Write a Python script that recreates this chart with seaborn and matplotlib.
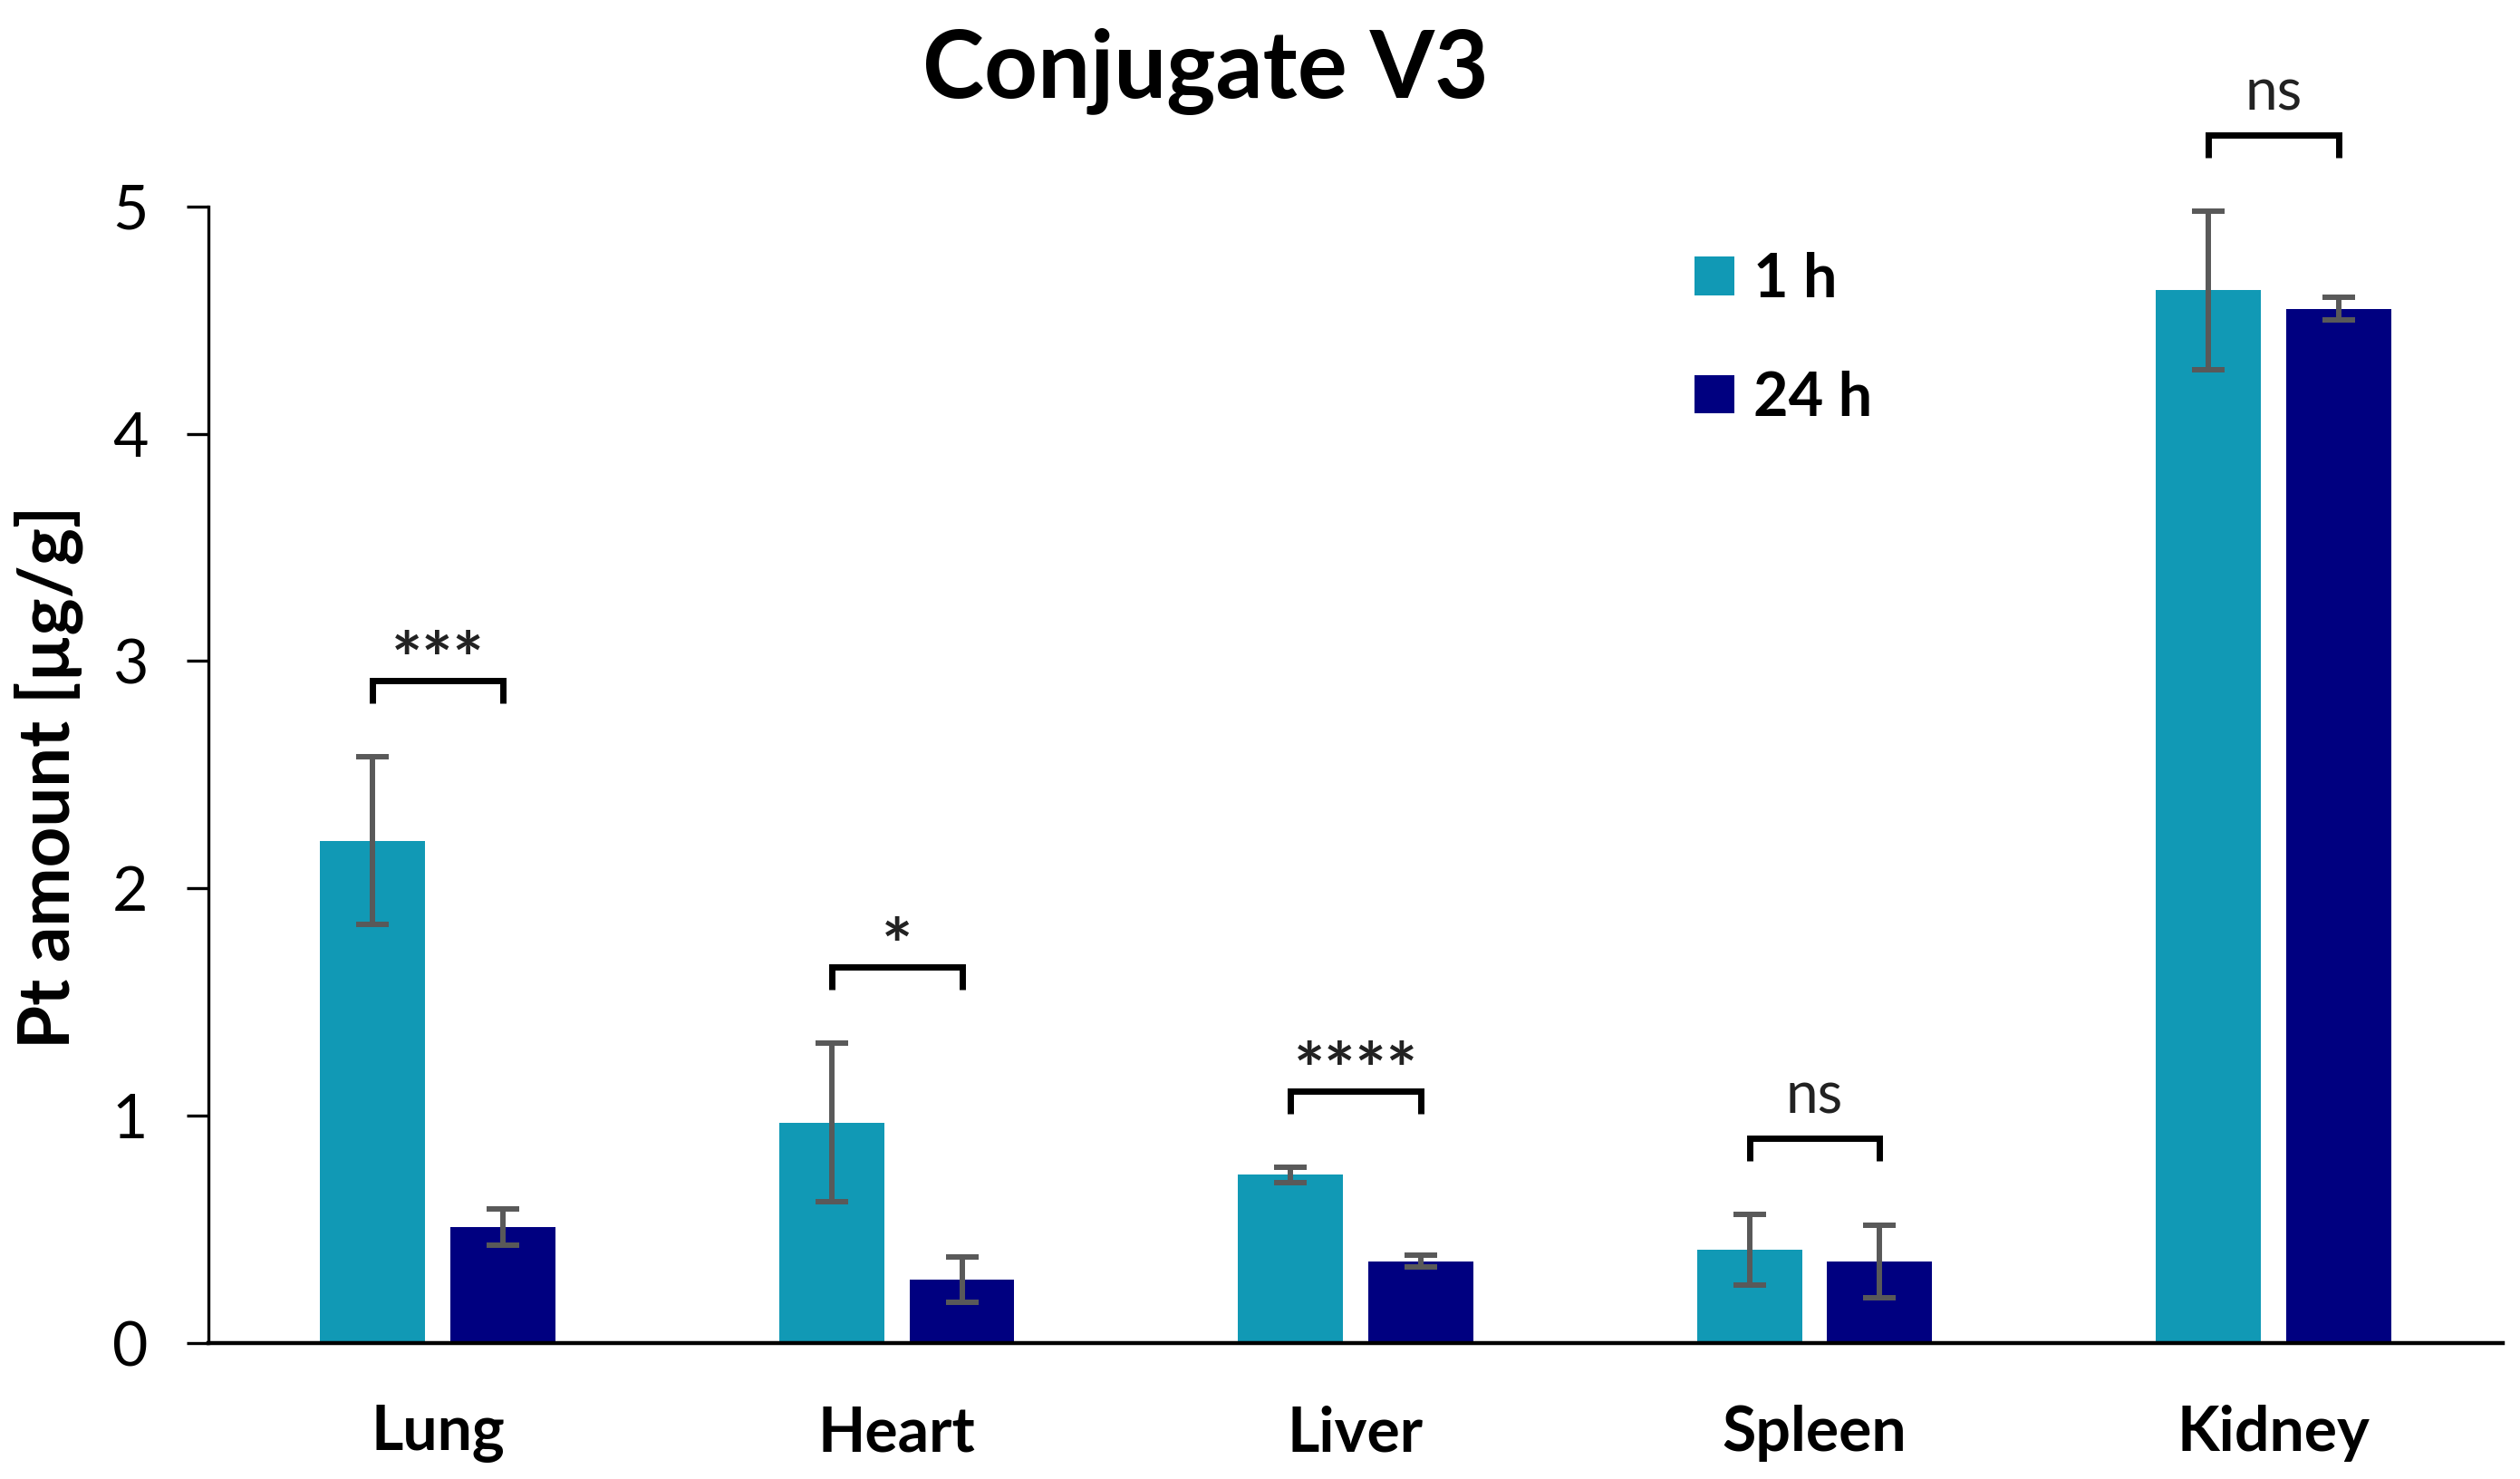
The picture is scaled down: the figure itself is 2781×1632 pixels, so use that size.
import matplotlib
matplotlib.use("Agg")
import matplotlib.pyplot as plt
import pandas as pd
import seaborn as sns

# ---- data ----
organs = ["Lung", "Heart", "Liver", "Spleen", "Kidney"]
times = ["1 h", "24 h"]
mean_1h = [2.21, 0.97, 0.74, 0.41, 4.63]
sd_1h = [0.37, 0.35, 0.033, 0.155, 0.35]
mean_24h = [0.51, 0.28, 0.36, 0.36, 4.55]
sd_24h = [0.08, 0.10, 0.025, 0.16, 0.05]
signif = ["***", "*", "****", "ns", "ns"]

colors = ["#1199B5", "#000080"]

df = pd.DataFrame({
    "organ": organs * 2,
    "time": [times[0]] * len(organs) + [times[1]] * len(organs),
    "value": mean_1h + mean_24h,
})

sns.set_style("white")
plt.rcParams["font.family"] = ["Lato", "DejaVu Sans"]
plt.rcParams["text.color"] = "black"
plt.rcParams["xtick.color"] = "black"
plt.rcParams["ytick.color"] = "black"

fig = plt.figure(figsize=(27.81, 16.32), dpi=100)
ax = fig.add_axes([0.0827, 0.0919, 0.9105, 0.7686])

sns.barplot(data=df, x="organ", y="value", hue="time", palette=colors,
            width=0.568, gap=0.194, errorbar=None, saturation=1,
            linewidth=0, ax=ax)

# error bars at the bar centres
centres = []
for cont, means, sds in zip(ax.containers, [mean_1h, mean_24h], [sd_1h, sd_24h]):
    xs = [b.get_x() + b.get_width() / 2 for b in cont]
    centres.append(xs)
    ax.errorbar(xs, means, yerr=sds, fmt="none", ecolor="#595959",
                elinewidth=4.3, capsize=13, capthick=4.3, zorder=3)

# significance brackets
for i, lab in enumerate(signif):
    top = max(mean_1h[i] + sd_1h[i], mean_24h[i] + sd_24h[i]) + 0.335
    x1, x2 = centres[0][i], centres[1][i]
    ax.plot([x1, x1, x2, x2], [top - 0.1, top, top, top - 0.1], color="black",
            lw=5, clip_on=False, solid_joinstyle="miter", solid_capstyle="butt")
    if lab == "ns":
        ax.text((x1 + x2) / 2, top + 0.11, lab, ha="center", va="baseline",
                fontsize=46, color="#222222", clip_on=False)
    else:
        ax.text((x1 + x2) / 2, top - 0.02, lab, ha="center", va="baseline",
                fontsize=58, fontweight="bold", color="#222222", clip_on=False)

ax.set_xlim(-0.5, 4.5)
ax.set_ylim(0, 5)
ax.set_yticks(range(0, 6))
ax.set_xlabel("")
ax.set_ylabel("")

for s in ["top", "right"]:
    ax.spines[s].set_visible(False)
ax.spines["left"].set_linewidth(2.4)
ax.spines["left"].set_color("black")
ax.spines["bottom"].set_linewidth(3.2)
ax.spines["bottom"].set_color("black")

ax.tick_params(axis="y", direction="out", length=17, width=2.4, color="black",
               pad=31, labelsize=49, left=True)
ax.tick_params(axis="x", length=0, pad=49, labelsize=49)
for t in ax.get_xticklabels():
    t.set_fontweight("bold")

handles, labels = ax.get_legend_handles_labels()
ax.legend(handles, labels, loc="upper left", bbox_to_anchor=(0.6477, 0.960),
          frameon=False, prop={"weight": "bold", "size": 48},
          handlelength=0.66, handleheight=0.6, handletextpad=0.31,
          labelspacing=1.03, borderpad=0, borderaxespad=0)

fig.text(0.4785, 1 - 108 / 1632, "Conjugate V3", ha="center", va="baseline",
         fontsize=74, fontweight="bold")
fig.text(0.0193, 0.4749, "Pt amount [µg/g]", rotation=90, ha="center",
         va="center", fontsize=56, fontweight="bold")

fig.savefig("out.png", dpi=100)
